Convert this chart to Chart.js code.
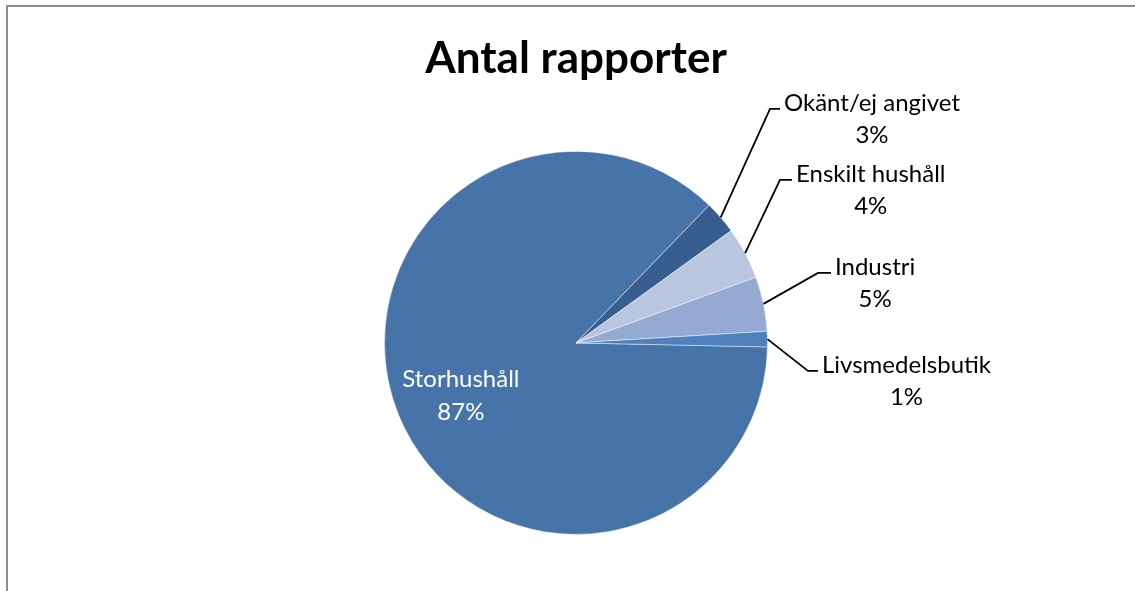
<!DOCTYPE html>
<html>
<head>
<meta charset="utf-8">
<script src="https://cdn.jsdelivr.net/npm/chart.js@4.4.0/dist/chart.umd.min.js"></script>
<style>
  html, body { margin: 0; padding: 0; background: #fff; }
  #wrap { position: relative; width: 1135px; height: 591px; }
  #frame { position: absolute; left: 6px; top: 5px; right: 0; bottom: 0;
           border-left: 2px solid #8c8c8c; border-top: 2px solid #8c8c8c; }
  canvas { position: absolute; left: 0; top: 0; }
</style>
</head>
<body>
<div id="wrap">
  <div id="frame"></div>
  <canvas id="pie-chart" width="1135" height="591"></canvas>
</div>
<script>
const categories = ["Storhushåll", "Okänt/ej angivet", "Enskilt hushåll", "Industri", "Livsmedelsbutik"];
const shares = [86.9, 2.8, 4.4, 4.6, 1.3];
const sliceColors = ["#4674a8", "#375e8e", "#b9c6e0", "#95aad2", "#4e80bd"];

const font = "Lato, 'Open Sans', sans-serif";

// where each outside label's leader line bends, relative to the pie centre
const elbows = [null, { dx: 194, dy: -234, len: 10 }, { dx: 204, dy: -163, len: 12 },
  { dx: 242, dy: -70, len: 13 }, { dx: 232, dy: 28, len: 10 }];

const pieLabels = {
  id: "pieLabels",
  afterDatasetsDraw(chart) {
    const ctx = chart.ctx;
    const data = chart.data.datasets[0].data;
    const total = data.reduce((a, b) => a + b, 0);
    const arcs = chart.getDatasetMeta(0).data;
    ctx.save();
    ctx.font = "24px " + font;
    ctx.textBaseline = "middle";
    ctx.textAlign = "center";
    arcs.forEach((arc, i) => {
      const name = chart.data.labels[i];
      const pct = Math.round(data[i] / total * 100) + "%";
      const mid = (arc.startAngle + arc.endAngle) / 2;
      const r = arc.outerRadius;
      const cx = arc.x, cy = arc.y;
      if (!elbows[i]) {
        const lx = cx + Math.cos(mid) * r * 0.65;
        const ly = cy + Math.sin(mid) * r * 0.65;
        ctx.fillStyle = "#ffffff";
        ctx.fillText(name, lx, ly - 11);
        ctx.fillText(pct, lx, ly + 22);
        return;
      }
      const e = elbows[i];
      const sx = cx + Math.cos(mid) * r, sy = cy + Math.sin(mid) * r;
      const ex = cx + e.dx, ey = cy + e.dy;
      ctx.strokeStyle = "#000";
      ctx.lineWidth = 1.8;
      ctx.beginPath();
      ctx.moveTo(sx, sy);
      ctx.lineTo(ex, ey);
      ctx.lineTo(ex + e.len, ey);
      ctx.stroke();
      const w = ctx.measureText(name).width;
      const tx = ex + e.len + 4 + w / 2;
      ctx.fillStyle = "#000";
      ctx.fillText(name, tx, ey - 6);
      ctx.fillText(pct, tx, ey + 26);
    });
    ctx.restore();
  }
};

new Chart("pie-chart", {
  type: "pie",
  data: {
    labels: categories,
    datasets: [{
      data: shares,
      backgroundColor: sliceColors,
      borderColor: "rgba(255,255,255,0.45)",
      borderWidth: 1,
    }],
  },
  options: {
    responsive: false,
    animation: false,
    rotation: 91.2,
    layout: { padding: { left: 384, right: 367, top: 0, bottom: 56 } },
    plugins: {
      legend: { display: false },
      tooltip: { enabled: false },
      title: {
        display: true,
        text: "Antal rapporter",
        color: "#000",
        font: { family: font, size: 44, weight: "bold", lineHeight: 1.2 },
        padding: { top: 32, bottom: 66 },
      },
    },
  },
  plugins: [pieLabels],
});
</script>
</body>
</html>
